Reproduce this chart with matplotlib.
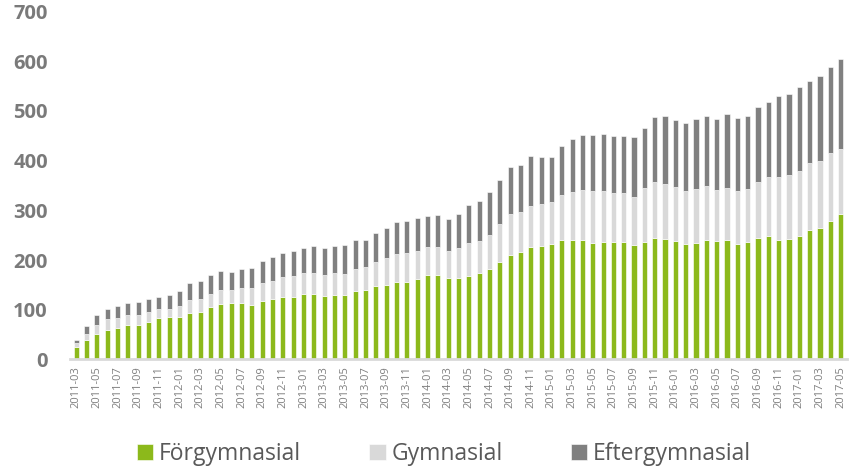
import numpy as np
import pandas as pd
import matplotlib
matplotlib.use("Agg")
import matplotlib.pyplot as plt

# monthly categories 2011-03 .. 2017-05
months = [p.strftime("%Y-%m") for p in pd.period_range("2011-03", "2017-05", freq="M")]

forgymnasial = [25, 39, 52, 60, 63, 70, 70, 76, 84, 85, 86, 94, 96, 106, 111, 113, 114, 110, 117, 122,
                126, 126, 131, 132, 128, 130, 129, 138, 140, 148, 150, 155, 155, 162, 170, 170, 164, 163, 168, 173,
                182, 196, 210, 217, 226, 229, 232, 240, 241, 241, 234, 236, 236, 236, 230, 236, 244, 242, 238, 232,
                234, 241, 238, 240, 232, 236, 245, 248, 241, 243, 249, 261, 265, 279, 292]
gymnasial = [8, 13, 18, 21, 20, 20, 19, 20, 17, 17, 22, 25, 25, 26, 28, 26, 30, 33, 37, 36,
             39, 42, 43, 42, 41, 43, 43, 44, 47, 49, 55, 57, 59, 56, 56, 57, 54, 61, 66, 65,
             69, 76, 83, 79, 83, 83, 84, 90, 96, 99, 104, 103, 99, 98, 96, 108, 113, 112, 108, 107,
             108, 108, 103, 104, 106, 106, 112, 120, 127, 129, 130, 134, 134, 137, 132]
eftergymnasial = [7, 15, 20, 20, 24, 24, 27, 26, 25, 28, 30, 35, 36, 37, 39, 36, 38, 41, 44, 48,
                  49, 50, 51, 54, 56, 56, 59, 58, 54, 57, 59, 65, 65, 66, 62, 63, 65, 68, 76, 81,
                  85, 90, 94, 96, 100, 96, 92, 100, 107, 112, 114, 114, 115, 116, 122, 122, 131, 135, 136, 136,
                  142, 140, 143, 149, 148, 148, 150, 150, 162, 163, 169, 166, 171, 172, 181]

series_names = ["Förgymnasial", "Gymnasial", "Eftergymnasial"]
colors = ["#8cb91b", "#d9d9d9", "#808080"]

fig = plt.figure(figsize=(8.49, 4.69), dpi=100)
ax = fig.add_axes([0.0825, 0.2335, 0.915, 0.742])

x = np.arange(len(months))
bottom = np.zeros(len(months))
for name, vals, col in zip(series_names, [forgymnasial, gymnasial, eftergymnasial], colors):
    vals = np.array(vals, dtype=float)
    ax.bar(x, vals, width=0.5, bottom=bottom, color=col, edgecolor="white",
           linewidth=0.4, label=name)
    bottom += vals

ax.set_ylim(0, 700)
ax.set_xlim(-0.6, len(months) - 0.4)
ax.set_yticks(range(0, 701, 100))
ax.set_yticklabels([str(v) for v in range(0, 701, 100)],
                   fontfamily="Open Sans", fontweight="bold", fontsize=14.5, color="#7a7a7a")
ax.set_xticks(x[::2])
ax.set_xticklabels(months[::2], rotation=90, fontfamily="Open Sans", fontsize=8, color="#7f7f7f")
ax.tick_params(axis="y", length=0, pad=16)
ax.tick_params(axis="x", length=0, pad=5)

for side in ["top", "right", "left"]:
    ax.spines[side].set_visible(False)
ax.spines["bottom"].set_color("#d9d9d9")
ax.spines["bottom"].set_linewidth(2)

fig.legend(loc="lower center", bbox_to_anchor=(444 / 849, -0.038), ncol=3, frameon=False,
           prop={"family": "Open Sans", "size": 16.5}, labelcolor="#595959",
           handlelength=0.7, handleheight=0.7, handletextpad=0.25, columnspacing=3.0)

fig.savefig("out.png", dpi=100)
